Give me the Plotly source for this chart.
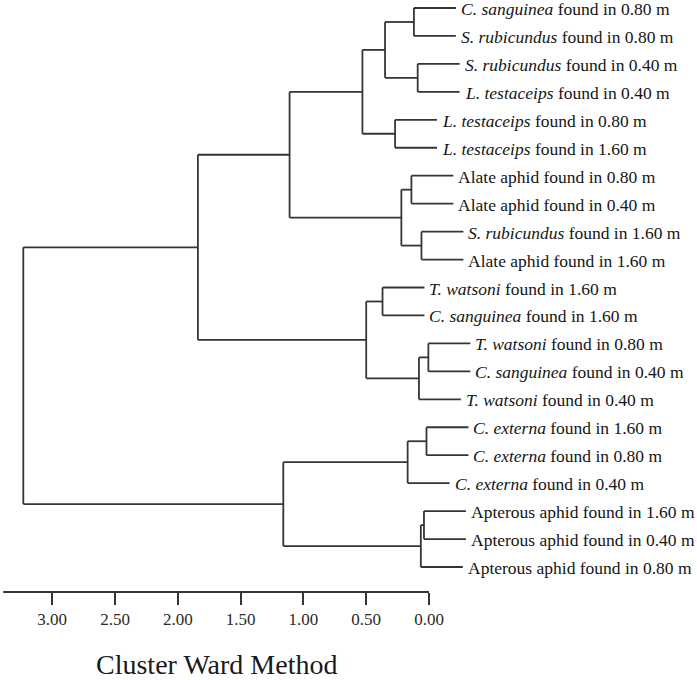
import plotly.graph_objects as go

# ---------------- data ----------------
leaf_taxa = [
    "C. sanguinea", "S. rubicundus", "S. rubicundus", "L. testaceips",
    "L. testaceips", "L. testaceips", "Alate aphid", "Alate aphid",
    "S. rubicundus", "Alate aphid", "T. watsoni", "C. sanguinea",
    "T. watsoni", "C. sanguinea", "T. watsoni", "C. externa",
    "C. externa", "C. externa", "Apterous aphid", "Apterous aphid",
    "Apterous aphid",
]
leaf_italic = [
    True, True, True, True, True, True, False, False, True, False,
    True, True, True, True, True, True, True, True, False, False, False,
]
leaf_height_m = [
    "0.80", "0.80", "0.40", "0.40", "0.80", "1.60", "0.80", "0.40",
    "1.60", "1.60", "1.60", "1.60", "0.80", "0.40", "0.40", "1.60",
    "0.80", "0.40", "1.60", "0.40", "0.80",
]
# merges: (child_a, child_b, distance); leaves are 0..20, new nodes 21..
merge_a = [0, 2, 21, 4, 23, 6, 8, 26, 25, 10, 12, 31, 30, 29, 15, 35, 18, 37, 36, 34]
merge_b = [1, 3, 22, 5, 24, 7, 9, 27, 28, 11, 13, 14, 32, 33, 16, 17, 19, 20, 38, 39]
merge_dist = [0.12, 0.09, 0.35, 0.27, 0.53, 0.14, 0.06, 0.22, 1.11, 0.37,
              0.005, 0.08, 0.50, 1.84, 0.02, 0.17, 0.04, 0.065, 1.16, 3.23]
tick_values = [0.0, 0.5, 1.0, 1.5, 2.0, 2.5, 3.0]
axis_title = "Cluster Ward Method"

# ---------------- layout constants ----------------
LINE_COLOR = "#353535"
STUB = 0.334          # length of leaf stubs (distance units)
AXIS_MAX = 3.39
FONT = "Liberation Serif"

n = len(leaf_taxa)
pos_y = {i: float(i) for i in range(n)}
pos_x = {i: None for i in range(n)}
parent_h = {}
xs, ys = [], []
for k, (a, b, d) in enumerate(zip(merge_a, merge_b, merge_dist)):
    node = n + k
    for c in (a, b):
        parent_h[c] = d
        cx = pos_x[c] if pos_x[c] is not None else d - STUB
        xs += [cx, d, None]
        ys += [pos_y[c], pos_y[c], None]
    xs += [d, d, None]
    ys += [pos_y[a], pos_y[b], None]
    pos_y[node] = (pos_y[a] + pos_y[b]) / 2
    pos_x[node] = d

fig = go.Figure()
fig.add_trace(go.Scatter(x=xs, y=ys, mode="lines",
                         line=dict(color=LINE_COLOR, width=1.8),
                         hoverinfo="skip", showlegend=False))

for i in range(n):
    taxon = f"<i>{leaf_taxa[i]}</i>" if leaf_italic[i] else leaf_taxa[i]
    fig.add_annotation(
        x=parent_h[i] - STUB, y=i, xref="x", yref="y",
        text=f"{taxon} found in {leaf_height_m[i]} m",
        showarrow=False, xanchor="left", yanchor="middle", xshift=3,
        yshift=-1,
        font=dict(family=FONT, size=17.5, color="#151515"),
    )

fig.add_shape(type="line", xref="x", yref="paper", x0=AXIS_MAX, x1=0,
              y0=0, y1=0, line=dict(color=LINE_COLOR, width=2))

fig.add_annotation(x=AXIS_MAX / 2, y=-0.1233, xref="x", yref="paper",
                   text=axis_title, showarrow=False, xanchor="center",
                   yanchor="middle",
                   font=dict(family=FONT, size=28, color="#1a1a1a"))

fig.update_layout(
    width=697, height=680,
    margin=dict(l=0, r=0, t=0, b=88),
    paper_bgcolor="white", plot_bgcolor="white",
    xaxis=dict(range=[3.4156, -2.1338], tickvals=tick_values,
               ticktext=[f"{v:.2f}" for v in tick_values],
               ticks="outside", ticklen=12, tickwidth=1.8,
               tickcolor=LINE_COLOR, showgrid=False, zeroline=False,
               showline=False,
               tickfont=dict(family=FONT, size=17, color="#2a2a2a")),
    yaxis=dict(range=[20.894, -0.286], visible=False, showgrid=False,
               zeroline=False),
)

fig.write_html(
    "out.html",
    config={"displayModeBar": False},
    post_script="document.body.style.margin='0';document.body.style.padding='0';",
)
